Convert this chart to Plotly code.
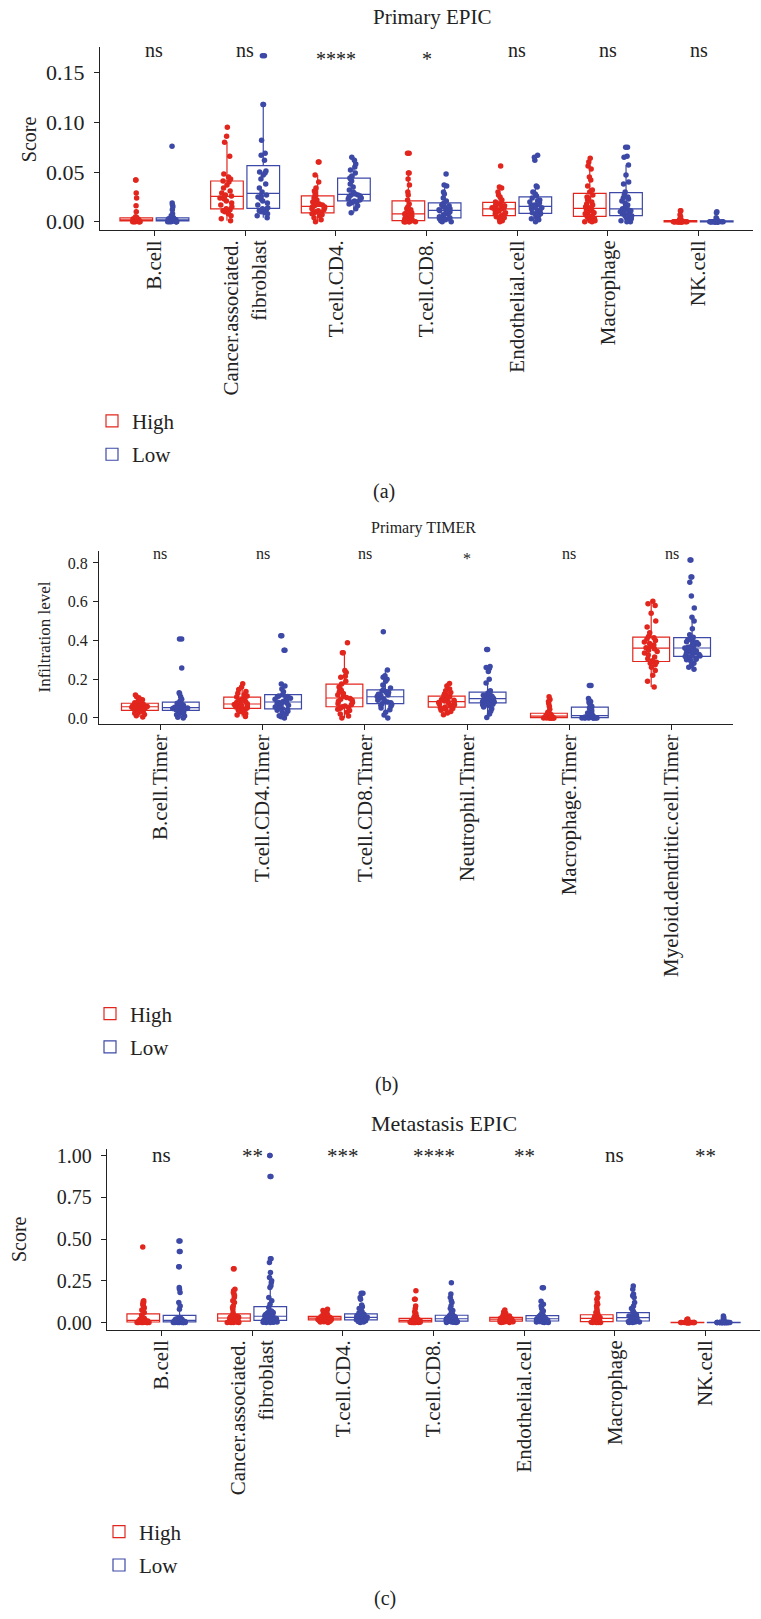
import plotly.graph_objects as go

W, H = 761, 1619
FONT = "Liberation Serif"
RED = "#E2261D"
BLUE = "#3D49A6"
INK = "#222222"

# ---------------- Panel (a): Primary EPIC ----------------
a_categories = ["B.cell", "Cancer.associated.fibroblast", "T.cell.CD4.", "T.cell.CD8.",
                "Endothelial.cell", "Macrophage", "NK.cell"]
a_ticktext = ["B.cell", "Cancer.associated.<br>fibroblast", "T.cell.CD4.", "T.cell.CD8.",
              "Endothelial.cell", "Macrophage", "NK.cell"]
a_signif = ["ns", "ns", "****", "*", "ns", "ns", "ns"]
a_yticks = [0.00, 0.05, 0.10, 0.15]

a_high_bcell = [0, 0, 0, 0, 0, 0, 0.001, 0.001, 0.001, 0.001, 0.001, 0.002, 0.002, 0.002, 0.002, 0.002,
                0.003, 0.003, 0.003, 0.003, 0.004, 0.004, 0.004, 0.005, 0.010, 0.016, 0.024, 0.029, 0.042, 0.042]
a_low_bcell = [0, 0, 0, 0, 0, 0, 0.001, 0.001, 0.001, 0.001, 0.001, 0.001, 0.002, 0.002, 0.002, 0.002,
               0.002, 0.003, 0.003, 0.003, 0.004, 0.004, 0.004, 0.006, 0.008, 0.012, 0.015, 0.017, 0.019, 0.076]
a_high_caf = [0.001, 0.003, 0.006, 0.008, 0.010, 0.011, 0.012, 0.013, 0.015, 0.017, 0.019, 0.021, 0.023,
              0.024, 0.025, 0.026, 0.027, 0.029, 0.031, 0.034, 0.037, 0.040, 0.041, 0.043, 0.045, 0.048,
              0.066, 0.080, 0.086, 0.095]
a_low_caf = [0.004, 0.006, 0.008, 0.009, 0.010, 0.011, 0.012, 0.013, 0.014, 0.017, 0.019, 0.021, 0.023,
             0.025, 0.026, 0.027, 0.030, 0.034, 0.038, 0.043, 0.047, 0.049, 0.050, 0.051, 0.062, 0.067,
             0.069, 0.082, 0.118, 0.118, 0.167, 0.167]
a_high_cd4 = [0.000, 0.002, 0.004, 0.006, 0.007, 0.008, 0.009, 0.009, 0.010, 0.011, 0.012, 0.013, 0.014,
              0.015, 0.015, 0.016, 0.017, 0.018, 0.019, 0.020, 0.022, 0.024, 0.026, 0.028, 0.031, 0.034,
              0.040, 0.047, 0.060, 0.060]
a_low_cd4 = [0.009, 0.013, 0.016, 0.018, 0.019, 0.020, 0.020, 0.021, 0.022, 0.023, 0.024, 0.025, 0.026,
             0.027, 0.027, 0.028, 0.030, 0.032, 0.035, 0.038, 0.041, 0.043, 0.044, 0.046, 0.049, 0.052,
             0.055, 0.058, 0.062, 0.065]
a_high_cd8 = [0, 0, 0, 0, 0, 0, 0.001, 0.001, 0.001, 0.002, 0.003, 0.004, 0.005, 0.006, 0.006, 0.007,
              0.007, 0.008, 0.009, 0.010, 0.011, 0.012, 0.013, 0.014, 0.015, 0.018, 0.022, 0.027, 0.030,
              0.037, 0.043, 0.049, 0.049, 0.069, 0.069]
a_low_cd8 = [0, 0, 0.001, 0.002, 0.003, 0.003, 0.004, 0.004, 0.005, 0.007, 0.008, 0.009, 0.010, 0.011,
             0.011, 0.012, 0.013, 0.014, 0.015, 0.016, 0.017, 0.018, 0.019, 0.021, 0.024, 0.028, 0.030,
             0.036, 0.037, 0.048]
a_high_endo = [0, 0.001, 0.002, 0.003, 0.004, 0.005, 0.006, 0.006, 0.007, 0.008, 0.009, 0.010, 0.011,
               0.012, 0.012, 0.013, 0.014, 0.014, 0.015, 0.016, 0.016, 0.017, 0.018, 0.020, 0.022, 0.025,
               0.027, 0.030, 0.034, 0.035, 0.056]
a_low_endo = [0, 0.002, 0.003, 0.005, 0.006, 0.007, 0.008, 0.008, 0.009, 0.010, 0.011, 0.012, 0.013,
              0.014, 0.014, 0.015, 0.016, 0.017, 0.018, 0.019, 0.020, 0.021, 0.022, 0.024, 0.026, 0.028,
              0.030, 0.035, 0.036, 0.062, 0.065, 0.067]
a_high_macro = [0, 0, 0.001, 0.001, 0.002, 0.003, 0.003, 0.004, 0.005, 0.006, 0.007, 0.008, 0.009, 0.010,
                0.011, 0.012, 0.013, 0.013, 0.014, 0.015, 0.017, 0.018, 0.020, 0.022, 0.024, 0.025, 0.027,
                0.030, 0.032, 0.036, 0.042, 0.045, 0.053, 0.056, 0.060, 0.064]
a_low_macro = [0, 0, 0.001, 0.002, 0.003, 0.004, 0.005, 0.006, 0.006, 0.007, 0.008, 0.009, 0.010, 0.010,
               0.011, 0.011, 0.012, 0.013, 0.015, 0.017, 0.019, 0.021, 0.023, 0.024, 0.025, 0.027, 0.030,
               0.038, 0.040, 0.047, 0.057, 0.065, 0.066, 0.075, 0.075]
a_high_nk = [0, 0, 0, 0, 0, 0, 0, 0, 0, 0, 0, 0, 0, 0, 0, 0, 0, 0, 0.001, 0.001, 0.001, 0.001,
             0.002, 0.002, 0.003, 0.005, 0.007, 0.011, 0.011]
a_low_nk = [0, 0, 0, 0, 0, 0, 0, 0, 0, 0, 0, 0, 0, 0, 0, 0, 0, 0, 0, 0, 0.001, 0.001, 0.001, 0.001,
            0.002, 0.003, 0.004, 0.009, 0.010]

# ---------------- Panel (b): Primary TIMER ----------------
b_categories = ["B.cell.Timer", "T.cell.CD4.Timer", "T.cell.CD8.Timer", "Neutrophil.Timer",
                "Macrophage.Timer", "Myeloid.dendritic.cell.Timer"]
b_signif = ["ns", "ns", "ns", "*", "ns", "ns"]
b_yticks = [0.0, 0.2, 0.4, 0.6, 0.8]

b_high_bcell = [0.005, 0.012, 0.018, 0.024, 0.028, 0.032, 0.036, 0.039, 0.041, 0.044, 0.047, 0.050, 0.052,
                0.055, 0.057, 0.059, 0.061, 0.063, 0.065, 0.068, 0.071, 0.074, 0.076, 0.079, 0.083, 0.088,
                0.094, 0.101, 0.109, 0.119]
b_low_bcell = [0.000, 0.004, 0.010, 0.016, 0.022, 0.028, 0.033, 0.037, 0.040, 0.042, 0.044, 0.046, 0.048,
               0.049, 0.050, 0.051, 0.053, 0.055, 0.058, 0.061, 0.065, 0.069, 0.073, 0.076, 0.080, 0.088,
               0.097, 0.110, 0.125, 0.130, 0.258, 0.407, 0.407]
b_high_cd4 = [0.008, 0.015, 0.022, 0.028, 0.034, 0.040, 0.045, 0.049, 0.052, 0.056, 0.060, 0.063, 0.066,
              0.069, 0.071, 0.073, 0.076, 0.080, 0.085, 0.090, 0.096, 0.102, 0.108, 0.113, 0.120, 0.128,
              0.137, 0.147, 0.160, 0.176]
b_low_cd4 = [0.000, 0.006, 0.012, 0.020, 0.028, 0.035, 0.040, 0.044, 0.047, 0.051, 0.056, 0.061, 0.066,
             0.070, 0.074, 0.077, 0.080, 0.085, 0.090, 0.096, 0.102, 0.106, 0.109, 0.111, 0.113, 0.120,
             0.135, 0.150, 0.165, 0.175, 0.350, 0.350, 0.424, 0.424]
b_high_cd8 = [0.000, 0.010, 0.020, 0.030, 0.038, 0.045, 0.050, 0.054, 0.058, 0.062, 0.068, 0.074, 0.080,
              0.086, 0.091, 0.096, 0.100, 0.106, 0.112, 0.118, 0.126, 0.134, 0.143, 0.152, 0.160, 0.175,
              0.190, 0.210, 0.215, 0.235, 0.245, 0.336, 0.336, 0.388]
b_low_cd8 = [0.000, 0.015, 0.030, 0.042, 0.052, 0.060, 0.066, 0.070, 0.074, 0.078, 0.083, 0.088, 0.092,
             0.097, 0.101, 0.105, 0.108, 0.111, 0.115, 0.119, 0.123, 0.127, 0.131, 0.135, 0.139, 0.145,
             0.155, 0.170, 0.190, 0.200, 0.210, 0.218, 0.247, 0.445]
b_high_neutro = [0.017, 0.025, 0.033, 0.040, 0.045, 0.049, 0.053, 0.056, 0.060, 0.064, 0.068, 0.072, 0.076,
                 0.080, 0.083, 0.085, 0.088, 0.091, 0.095, 0.099, 0.104, 0.109, 0.113, 0.118, 0.124, 0.131,
                 0.140, 0.150, 0.165, 0.178]
b_low_neutro = [0.002, 0.020, 0.035, 0.048, 0.057, 0.063, 0.068, 0.071, 0.075, 0.079, 0.083, 0.085, 0.087,
                0.090, 0.093, 0.095, 0.097, 0.098, 0.100, 0.104, 0.108, 0.110, 0.112, 0.117, 0.122, 0.125,
                0.127, 0.131, 0.140, 0.180, 0.200, 0.240, 0.255, 0.260, 0.266, 0.353, 0.353]
b_high_macro = [0, 0, 0, 0, 0, 0, 0, 0.001, 0.002, 0.003, 0.004, 0.006, 0.007, 0.008, 0.009, 0.010, 0.011,
                0.012, 0.014, 0.016, 0.018, 0.020, 0.022, 0.025, 0.030, 0.045, 0.060, 0.075, 0.085, 0.095,
                0.110]
b_low_macro = [0, 0, 0, 0, 0, 0, 0, 0.001, 0.002, 0.003, 0.005, 0.006, 0.007, 0.008, 0.008, 0.010, 0.015,
               0.020, 0.025, 0.030, 0.036, 0.042, 0.048, 0.052, 0.060, 0.070, 0.080, 0.085, 0.090, 0.100,
               0.168, 0.168]
b_high_myeloid = [0.160, 0.190, 0.220, 0.245, 0.262, 0.275, 0.282, 0.288, 0.295, 0.305, 0.315, 0.325,
                  0.335, 0.343, 0.350, 0.357, 0.363, 0.370, 0.377, 0.384, 0.392, 0.400, 0.408, 0.414,
                  0.420, 0.440, 0.470, 0.500, 0.540, 0.580, 0.590, 0.602]
b_low_myeloid = [0.252, 0.262, 0.272, 0.283, 0.293, 0.300, 0.303, 0.305, 0.308, 0.310, 0.312, 0.317,
                 0.320, 0.322, 0.328, 0.333, 0.336, 0.339, 0.345, 0.349, 0.352, 0.356, 0.358, 0.361,
                 0.365, 0.367, 0.375, 0.380, 0.384, 0.390, 0.393, 0.398, 0.402, 0.405, 0.410, 0.416,
                 0.430, 0.460, 0.500, 0.520, 0.568, 0.630, 0.700, 0.728, 0.728, 0.815, 0.815]

# ---------------- Panel (c): Metastasis EPIC ----------------
c_categories = a_categories
c_ticktext = a_ticktext
c_signif = ["ns", "**", "***", "****", "**", "ns", "**"]
c_yticks = [0.00, 0.25, 0.50, 0.75, 1.00]

c_high_bcell = [0, 0, 0, 0, 0.001, 0.001, 0.001, 0.002, 0.002, 0.003, 0.004, 0.005, 0.006, 0.007, 0.008,
                0.009, 0.010, 0.011, 0.012, 0.013, 0.014, 0.016, 0.018, 0.020, 0.022, 0.024, 0.026, 0.028,
                0.030, 0.045, 0.060, 0.075, 0.088, 0.098, 0.105, 0.112, 0.120, 0.126, 0.131, 0.453]
c_low_bcell = [0, 0, 0, 0, 0, 0.001, 0.001, 0.001, 0.002, 0.002, 0.003, 0.003, 0.004, 0.005, 0.006, 0.006,
               0.007, 0.008, 0.009, 0.010, 0.010, 0.011, 0.012, 0.013, 0.013, 0.014, 0.015, 0.016, 0.017,
               0.019, 0.020, 0.021, 0.023, 0.025, 0.027, 0.029, 0.031, 0.080, 0.100, 0.120, 0.180, 0.200,
               0.210, 0.334, 0.334, 0.425, 0.425, 0.489, 0.489]
c_high_caf = [0, 0, 0.001, 0.001, 0.002, 0.002, 0.003, 0.003, 0.004, 0.005, 0.005, 0.006, 0.007, 0.008,
              0.009, 0.010, 0.012, 0.013, 0.015, 0.016, 0.018, 0.019, 0.020, 0.022, 0.023, 0.025, 0.026,
              0.027, 0.028, 0.029, 0.030, 0.031, 0.032, 0.033, 0.034, 0.035, 0.036, 0.038, 0.039, 0.041,
              0.042, 0.044, 0.060, 0.080, 0.090, 0.100, 0.120, 0.130, 0.150, 0.160, 0.170, 0.180, 0.190,
              0.200, 0.322, 0.322]
c_low_caf = [0, 0.001, 0.002, 0.002, 0.003, 0.004, 0.005, 0.006, 0.007, 0.007, 0.008, 0.009, 0.010, 0.010,
             0.011, 0.012, 0.013, 0.014, 0.016, 0.017, 0.018, 0.020, 0.021, 0.022, 0.024, 0.025, 0.027,
             0.028, 0.030, 0.032, 0.034, 0.036, 0.038, 0.040, 0.041, 0.043, 0.045, 0.047, 0.049, 0.051,
             0.053, 0.055, 0.057, 0.059, 0.061, 0.064, 0.067, 0.070, 0.090, 0.110, 0.130, 0.150, 0.210,
             0.220, 0.240, 0.250, 0.270, 0.300, 0.360, 0.382, 0.382, 0.875, 0.875, 1.000, 1.000]
c_high_cd4 = [0.000, 0.003, 0.005, 0.007, 0.009, 0.010, 0.012, 0.013, 0.014, 0.016, 0.017, 0.018, 0.019,
              0.020, 0.021, 0.022, 0.023, 0.024, 0.025, 0.026, 0.027, 0.028, 0.029, 0.030, 0.031, 0.032,
              0.033, 0.034, 0.035, 0.036, 0.038, 0.040, 0.043, 0.046, 0.050, 0.055, 0.060, 0.066, 0.072,
              0.080]
c_low_cd4 = [0.000, 0.004, 0.006, 0.008, 0.010, 0.011, 0.012, 0.013, 0.015, 0.016, 0.017, 0.018, 0.020,
             0.021, 0.022, 0.024, 0.025, 0.027, 0.028, 0.030, 0.031, 0.032, 0.034, 0.035, 0.036, 0.038,
             0.039, 0.041, 0.042, 0.044, 0.050, 0.058, 0.066, 0.075, 0.085, 0.095, 0.105, 0.140, 0.150,
             0.175, 0.175]
c_high_cd8 = [0, 0, 0, 0.001, 0.001, 0.002, 0.002, 0.003, 0.003, 0.004, 0.005, 0.006, 0.007, 0.007, 0.008,
              0.009, 0.010, 0.010, 0.011, 0.012, 0.013, 0.013, 0.014, 0.015, 0.016, 0.017, 0.017, 0.018,
              0.019, 0.020, 0.024, 0.030, 0.036, 0.045, 0.055, 0.065, 0.083, 0.100, 0.139, 0.139, 0.191]
c_low_cd8 = [0, 0.001, 0.002, 0.003, 0.004, 0.005, 0.006, 0.007, 0.007, 0.008, 0.009, 0.010, 0.012, 0.013,
             0.015, 0.016, 0.018, 0.019, 0.020, 0.022, 0.023, 0.024, 0.026, 0.027, 0.029, 0.030, 0.032,
             0.033, 0.035, 0.036, 0.042, 0.050, 0.060, 0.072, 0.085, 0.100, 0.120, 0.130, 0.150, 0.171,
             0.239]
c_high_endo = [0, 0.001, 0.002, 0.003, 0.004, 0.005, 0.006, 0.006, 0.007, 0.008, 0.009, 0.010, 0.011, 0.012,
               0.014, 0.015, 0.016, 0.017, 0.018, 0.020, 0.021, 0.022, 0.023, 0.024, 0.025, 0.026, 0.027,
               0.028, 0.029, 0.030, 0.032, 0.034, 0.036, 0.039, 0.042, 0.046, 0.050, 0.056, 0.064, 0.076]
c_low_endo = [0, 0.001, 0.002, 0.003, 0.004, 0.005, 0.006, 0.007, 0.007, 0.008, 0.010, 0.011, 0.013, 0.014,
              0.016, 0.017, 0.018, 0.019, 0.020, 0.022, 0.023, 0.024, 0.026, 0.027, 0.029, 0.030, 0.032,
              0.033, 0.035, 0.036, 0.040, 0.045, 0.052, 0.060, 0.070, 0.085, 0.100, 0.110, 0.127, 0.209,
              0.209]
c_high_macro = [0, 0, 0.001, 0.001, 0.002, 0.002, 0.003, 0.003, 0.004, 0.004, 0.006, 0.008, 0.010, 0.012,
                0.014, 0.016, 0.018, 0.020, 0.022, 0.024, 0.025, 0.027, 0.028, 0.030, 0.032, 0.033, 0.035,
                0.036, 0.038, 0.040, 0.045, 0.052, 0.060, 0.070, 0.085, 0.100, 0.110, 0.120, 0.140, 0.150,
                0.175]
c_low_macro = [0, 0.001, 0.002, 0.003, 0.004, 0.005, 0.006, 0.006, 0.007, 0.008, 0.010, 0.012, 0.014, 0.016,
               0.018, 0.020, 0.022, 0.024, 0.026, 0.028, 0.030, 0.032, 0.035, 0.037, 0.040, 0.042, 0.045,
               0.047, 0.050, 0.052, 0.058, 0.065, 0.075, 0.085, 0.100, 0.120, 0.150, 0.160, 0.171, 0.199,
               0.219]
c_high_nk = [0, 0, 0, 0, 0, 0, 0, 0, 0, 0, 0, 0, 0, 0, 0, 0, 0, 0, 0, 0, 0.001, 0.001, 0.001, 0.001, 0.001,
             0.001, 0.002, 0.002, 0.003, 0.004, 0.005, 0.007, 0.010, 0.014, 0.018, 0.022]
c_low_nk = [0, 0, 0, 0, 0, 0, 0, 0, 0, 0, 0, 0, 0, 0, 0, 0, 0, 0, 0, 0, 0, 0, 0.001, 0.001, 0.001, 0.001,
            0.001, 0.002, 0.003, 0.004, 0.006, 0.010, 0.016, 0.025, 0.032, 0.040]

a_high = [a_high_bcell, a_high_caf, a_high_cd4, a_high_cd8, a_high_endo, a_high_macro, a_high_nk]
a_low = [a_low_bcell, a_low_caf, a_low_cd4, a_low_cd8, a_low_endo, a_low_macro, a_low_nk]
b_high = [b_high_bcell, b_high_cd4, b_high_cd8, b_high_neutro, b_high_macro, b_high_myeloid]
b_low = [b_low_bcell, b_low_cd4, b_low_cd8, b_low_neutro, b_low_macro, b_low_myeloid]
c_high = [c_high_bcell, c_high_caf, c_high_cd4, c_high_cd8, c_high_endo, c_high_macro, c_high_nk]
c_low = [c_low_bcell, c_low_caf, c_low_cd4, c_low_cd8, c_low_endo, c_low_macro, c_low_nk]


def px(x):
    return x / W


def py(y):
    return 1 - y / H


fig = go.Figure()


def add_panel(cats, high, low, xa, ya, legend, tag):
    for name, groups, color in (("High", high, RED), ("Low", low, BLUE)):
        xs, ys = [], []
        for c, g in zip(cats, groups):
            xs += [c] * len(g)
            ys += g
        fig.add_trace(go.Box(
            x=xs, y=ys, name=name, xaxis=xa, yaxis=ya, legend=legend,
            legendgroup=tag + name, offsetgroup=name,
            line=dict(color=color, width=1.2), fillcolor="rgba(0,0,0,0)",
            marker=dict(color=color, size=5.5, opacity=1),
            boxpoints="all", jitter=0.45, pointpos=0, whiskerwidth=0,
            quartilemethod="linear"))


add_panel(a_categories, a_high, a_low, "x", "y", "legend", "a")
add_panel(b_categories, b_high, b_low, "x2", "y2", "legend2", "b")
add_panel(c_categories, c_high, c_low, "x3", "y3", "legend3", "c")


def xaxis_cfg(domain, cats, ticktext, anchor, size):
    return dict(domain=[px(domain[0]), px(domain[1])], anchor=anchor, type="category",
                categoryorder="array", categoryarray=cats, tickvals=cats, ticktext=ticktext,
                range=[-0.6, len(cats) - 0.4], tickangle=-90, showline=True, linecolor=INK,
                linewidth=1.3, ticks="outside", ticklen=5, tickcolor=INK, showgrid=False,
                zeroline=False, ticklabelstandoff=-4,
                tickfont=dict(family=FONT, size=size, color=INK))


def yaxis_cfg(top, bottom, rng, ticks, fmt, anchor, size, standoff):
    return dict(domain=[py(bottom), py(top)], anchor=anchor, range=rng, tickvals=ticks,
                tickformat=fmt, showline=True, linecolor=INK, linewidth=1.3, ticks="outside",
                ticklen=5, tickcolor=INK, showgrid=False, zeroline=False,
                ticklabelstandoff=standoff, tickfont=dict(family=FONT, size=size, color=INK))


def legend_cfg(x, y):
    return dict(x=px(x), y=py(y), xanchor="left", yanchor="top", bgcolor="rgba(0,0,0,0)",
                font=dict(family=FONT, size=21, color=INK), tracegroupgap=3, itemwidth=30)


annotations = []


def text(x, y, s, size, xref="paper", angle=0):
    annotations.append(dict(x=x if xref != "paper" else px(x), y=py(y), xref=xref, yref="paper",
                            text=s, showarrow=False, textangle=angle, xanchor="center",
                            yanchor="middle", font=dict(family=FONT, size=size, color=INK)))


# titles, axis titles, captions
text(432, 13, "Primary EPIC", 21)
text(424, 527, "Primary TIMER", 16)
text(444, 1126, "Metastasis EPIC", 22)
text(29, 136, "Score", 20, angle=-90)
text(44, 637, "Infiltration level", 17, angle=-90)
text(19, 1242, "Score", 20, angle=-90)
text(384, 490, "(a)", 20)
text(386, 1087, "(b)", 20)
text(385, 1603, "(c)", 20)

# significance labels
for c, s in zip(a_categories, a_signif):
    text(c, 46 if s == "ns" else 55, s, 20, xref="x")
for c, s in zip(b_categories, b_signif):
    text(c, 553 if s == "ns" else 558, s, 16, xref="x2")
for c, s in zip(c_categories, c_signif):
    text(c, 1157 if s == "ns" else 1158, s, 21, xref="x3")

fig.update_layout(
    width=W, height=H, margin=dict(l=0, r=0, t=0, b=0),
    paper_bgcolor="white", plot_bgcolor="white",
    boxmode="group", boxgap=0.2, boxgroupgap=0.1,
    xaxis=xaxis_cfg((100, 753), a_categories, a_ticktext, "y", 21),
    yaxis=yaxis_cfg(43, 227, [-0.008, 0.176], a_yticks, ".2f", "x", 22, 5),
    xaxis2=xaxis_cfg((99, 733), b_categories, b_categories, "y2", 21),
    yaxis2=yaxis_cfg(550, 724, [-0.031, 0.862], b_yticks, ".1f", "x2", 16, 2),
    xaxis3=xaxis_cfg((107, 760), c_categories, c_ticktext, "y3", 21),
    yaxis3=yaxis_cfg(1151, 1333, [-0.042, 1.042], c_yticks, ".2f", "x3", 20, 5),
    legend=legend_cfg(92, 399),
    legend2=legend_cfg(90, 995),
    legend3=legend_cfg(99, 1516),
    annotations=annotations,
    showlegend=True,
)

fig.write_html("out.html", config={"displayModeBar": False},
               post_script="document.body.style.margin='0px';")
